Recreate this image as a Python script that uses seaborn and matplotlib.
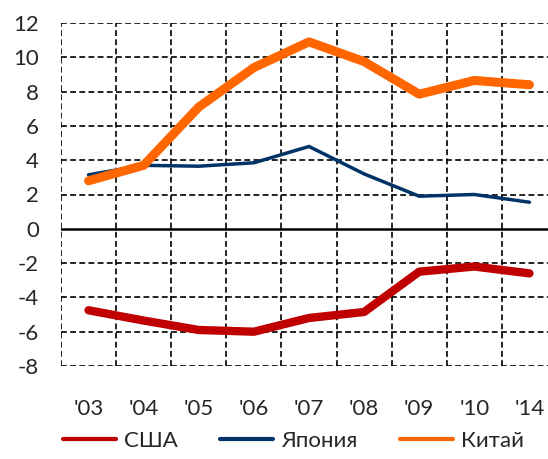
import pandas as pd
import matplotlib
matplotlib.use("Agg")
import matplotlib.pyplot as plt
import seaborn as sns
from matplotlib.lines import Line2D

# Data
years = ["'03", "'04", "'05", "'06", "'07", "'08", "'09", "'10", "'14"]
usa = [-4.75, -5.35, -5.9, -6.0, -5.2, -4.85, -2.5, -2.2, -2.6]
japan = [3.15, 3.7, 3.65, 3.85, 4.8, 3.2, 1.9, 2.0, 1.55]
china = [2.8, 3.7, 7.1, 9.4, 10.9, 9.75, 7.85, 8.65, 8.4]
series_names = ["США", "Япония", "Китай"]

colors = {"США": "#C00000", "Япония": "#003366", "Китай": "#FF6600"}
widths = {"США": 6.0, "Япония": 2.5, "Китай": 6.5}

sns.set_style("white")
plt.rcParams["font.family"] = ["Lato", "DejaVu Sans"]
plt.rcParams["axes.unicode_minus"] = False

df = pd.DataFrame({
    "pos": list(range(len(years))) * 3,
    "value": usa + japan + china,
    "country": [n for n in series_names for _ in years],
})

fig = plt.figure(figsize=(5.48, 4.59), dpi=100)
ax = fig.add_axes([61 / 548, 1 - 366 / 459, (557 - 61) / 548, (366 - 23) / 459])

# dashed grid
grid_kw = dict(color="black", lw=1.2, ls=(0, (3.5, 2)), zorder=1)
for y in range(-8, 13, 2):
    if y != 0:
        ax.axhline(y, **grid_kw)
for x in [i - 0.5 for i in range(len(years) + 1)]:
    ax.axvline(x, **grid_kw)
ax.axhline(0, color="black", lw=1.8, zorder=2)

for name in series_names:
    sub = df[df["country"] == name]
    sns.lineplot(data=sub, x="pos", y="value", ax=ax, color=colors[name],
                 linewidth=widths[name], solid_capstyle="round", zorder=3,
                 legend=False)

ax.set_xlim(-0.5, len(years) - 0.5)
ax.set_ylim(-8, 12)
for s in ax.spines.values():
    s.set_visible(False)

ax.set_xticks(range(len(years)))
ax.set_xticklabels(years, fontsize=16)
yt = list(range(-8, 13, 2))
ax.set_yticks(yt)
ax.set_yticklabels([str(v) for v in yt], fontsize=16)
ax.tick_params(axis="both", length=0)
ax.tick_params(axis="x", pad=24)
ax.tick_params(axis="y", pad=16)
ax.set_xlabel("")
ax.set_ylabel("")

handles = [Line2D([0], [0], color=colors[n], lw=3) for n in series_names]
fig.legend(handles, series_names, loc="center", bbox_to_anchor=(0.535, 0.04),
           ncol=3, frameon=False, fontsize=16, handlelength=2.4,
           columnspacing=1.9, handletextpad=0.35)

fig.savefig("out.png", dpi=100)
